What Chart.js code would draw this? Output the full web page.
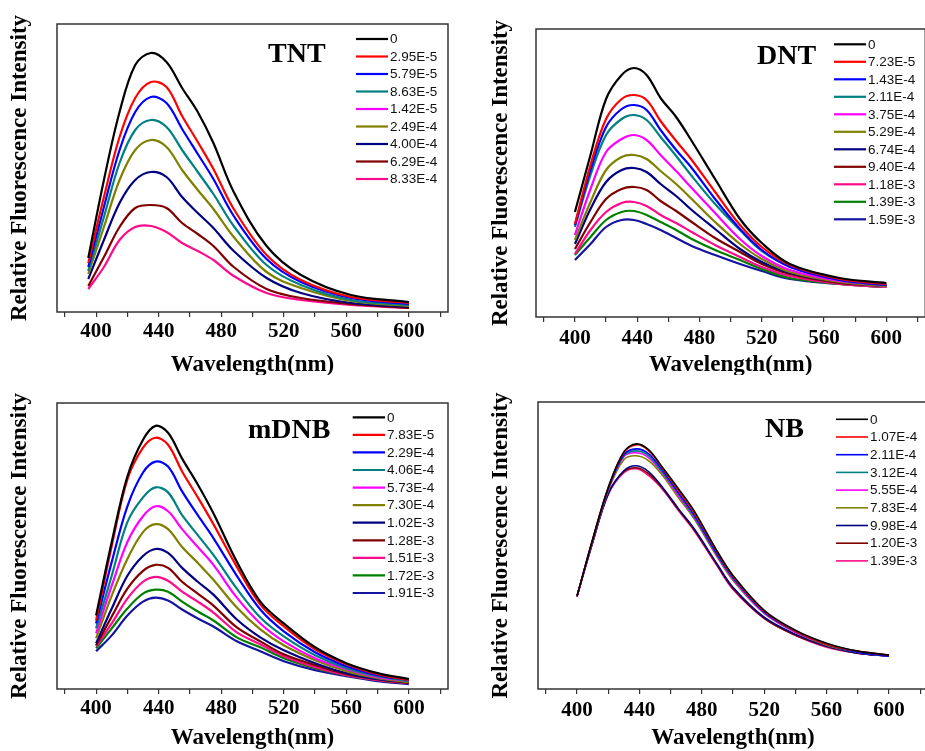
<!DOCTYPE html>
<html><head><meta charset="utf-8">
<script src="https://cdn.jsdelivr.net/npm/chart.js@4.4.0/dist/chart.umd.min.js"></script>
<style>
html,body{margin:0;padding:0;background:#fff;overflow:hidden;width:925px;height:751px;position:relative;}
canvas{position:absolute;}
</style></head><body>
<canvas id="c1" width="462" height="375" style="left:0;top:0"></canvas>
<canvas id="c2" width="466" height="375" style="left:462px;top:0"></canvas>
<canvas id="c3" width="462" height="376" style="left:0;top:375px"></canvas>
<canvas id="c4" width="466" height="376" style="left:462px;top:375px"></canvas>
<script>
// ---------- data ----------
const SERIES_COLORS_A = ['#000000','#FF0000','#0000FF','#008080','#FF00FF','#808000','#000080','#800000','#FF0A8C'];
const SERIES_COLORS_B = ['#000000','#FF0000','#0000FF','#008080','#FF00FF','#808000','#000080','#800000','#FF0A8C','#008000','#1414A0'];
const X_TICKS = [400, 440, 480, 520, 560, 600];

// TNT
const TNT_WAVELENGTH = [395, 405, 415, 425, 435, 445, 455, 465, 475, 488, 509, 531, 563, 600];
const TNT_CONC = ['0','2.95E-5','5.79E-5','8.63E-5','1.42E-5','2.49E-4','4.00E-4','6.29E-4','8.33E-4'];
const TNT_INTENSITY = [
  [54, 132, 200, 247, 259, 250, 224, 200, 169, 120, 66, 37, 17, 10],
  [49, 115, 175, 214, 230, 225, 196, 170, 143, 103, 57, 32, 15, 9],
  [45, 105, 162, 200, 215, 209, 183, 158, 133, 96, 53, 30, 14, 8],
  [41, 95, 149, 182, 192, 185, 162, 140, 118, 86, 47, 27, 12, 7],
  [],
  [38, 85, 132, 162, 172, 165, 142, 122, 103, 75, 40, 24, 11, 6],
  [33, 72, 109, 132, 140, 135, 115, 99, 84, 61, 34, 19, 9, 5],
  [26, 55, 85, 104, 107, 104, 89, 78, 66, 45, 23, 14, 8, 4],
  [23, 45, 72, 85, 86, 80, 69, 61, 52, 36, 19, 12, 7, 4]
];

// DNT
const DNT_WAVELENGTH = [400, 410, 420, 430, 438, 446, 455, 465, 475, 490, 506, 520, 538, 570, 600];
const DNT_CONC = ['0','7.23E-5','1.43E-4','2.11E-4','3.75E-4','5.29E-4','6.74E-4','9.40E-4','1.18E-3','1.39E-3','1.59E-3'];
const DNT_INTENSITY = [
  [105, 162, 218, 242, 249, 242, 219, 200, 176, 138, 98, 74, 53, 39, 34],
  [93, 152, 198, 218, 222, 217, 196, 176, 157, 125, 92, 70, 52, 38, 33],
  [92, 147, 190, 208, 212, 207, 187, 167, 149, 118, 88, 67, 50, 37, 32],
  [90, 142, 182, 198, 202, 197, 180, 161, 141, 113, 87, 66, 51, 37, 32],
  [82, 128, 165, 178, 182, 177, 162, 146, 129, 104, 78, 61, 47, 36, 32],
  [77, 115, 147, 160, 162, 158, 146, 133, 118, 95, 73, 58, 45, 35, 31],
  [73, 108, 135, 147, 149, 145, 133, 121, 107, 88, 68, 55, 44, 35, 31],
  [68, 95, 118, 128, 130, 127, 116, 106, 95, 79, 65, 53, 43, 34, 31],
  [63, 87, 105, 114, 115, 111, 102, 94, 85, 72, 60, 50, 41, 33, 30],
  [62, 80, 97, 105, 106, 102, 95, 87, 78, 67, 57, 48, 39, 33, 30],
  [57, 73, 90, 97, 97, 93, 87, 79, 71, 62, 53, 46, 38, 33, 30]
];

// mDNB
const MDNB_WAVELENGTH = [400, 410, 420, 430, 438, 446, 455, 465, 475, 490, 505, 520, 540, 560, 580, 600];
const MDNB_CONC = ['0','7.83E-5','2.29E-4','4.06E-4','5.73E-4','7.30E-4','1.02E-3','1.28E-3','1.51E-3','1.72E-3','1.91E-3'];
const MDNB_INTENSITY = [
  [74, 148, 214, 251, 265, 258, 232, 206, 177, 128, 88, 66, 42, 26, 16, 10],
  [69, 144, 211, 243, 253, 246, 219, 193, 166, 123, 85, 63, 40, 25, 15, 9],
  [66, 128, 184, 218, 229, 224, 199, 175, 152, 114, 80, 58, 37, 23, 14, 9],
  [61, 114, 168, 193, 203, 198, 175, 155, 135, 101, 72, 53, 34, 21, 13, 8],
  [56, 104, 148, 174, 184, 179, 161, 143, 125, 92, 66, 48, 31, 20, 12, 8],
  [51, 94, 131, 158, 166, 161, 143, 127, 110, 82, 60, 44, 29, 18, 11, 7],
  [46, 81, 114, 134, 141, 137, 122, 108, 95, 70, 52, 39, 26, 16, 10, 7],
  [44, 73, 101, 119, 125, 122, 108, 96, 84, 62, 48, 35, 24, 15, 10, 6],
  [43, 66, 91, 108, 113, 109, 98, 88, 77, 57, 45, 33, 22, 14, 9, 6],
  [41, 61, 81, 96, 100, 98, 88, 78, 69, 52, 42, 31, 21, 14, 9, 6],
  [38, 54, 74, 88, 92, 89, 80, 71, 63, 48, 38, 28, 19, 13, 8, 5]
];

// NB
const NB_WAVELENGTH = [400, 410, 420, 430, 438, 446, 455, 465, 475, 490, 500, 520, 540, 560, 580, 600];
const NB_CONC = ['0','1.07E-4','2.11E-4','3.12E-4','5.55E-4','7.83E-4','9.98E-4','1.20E-3','1.39E-3'];
const NB_INTENSITY = [
  [93, 150, 202, 238, 246, 240, 222, 201, 179, 138, 114, 79, 59, 46, 38, 34],
  [93, 150, 202, 237, 245, 239, 221, 199, 177, 137, 113, 78, 58, 45, 38, 34],
  [93, 149, 201, 235, 241, 236, 219, 197, 175, 135, 112, 77, 58, 45, 37, 33],
  [93, 149, 200, 234, 239, 234, 217, 196, 173, 134, 111, 77, 58, 45, 37, 33],
  [93, 149, 200, 233, 237, 232, 216, 194, 172, 133, 110, 76, 57, 45, 37, 33],
  [93, 148, 199, 230, 234, 229, 214, 192, 171, 132, 109, 76, 57, 44, 37, 33],
  [93, 147, 196, 219, 224, 218, 202, 181, 161, 125, 102, 72, 55, 43, 36, 33],
  [93, 147, 196, 218, 222, 216, 201, 180, 160, 124, 101, 71, 54, 43, 36, 33],
  [93, 147, 195, 217, 221, 214, 200, 179, 159, 123, 100, 71, 54, 42, 36, 33]
];

// ---------- layout / style ----------
const SERIF = '"Liberation Serif", "Times New Roman", serif';
const SANS = '"Liberation Sans", Arial, sans-serif';

const overlayPlugin = {
  id: 'overlay',
  afterDraw(chart, args, o) {
    const ctx = chart.ctx, a = chart.chartArea;
    ctx.save();
    ctx.strokeStyle = '#333';
    ctx.lineWidth = 1.5;
    ctx.strokeRect(a.left, a.top, a.right - a.left, a.bottom - a.top);
    ctx.fillStyle = '#000';
    ctx.font = 'bold 28px ' + SERIF;
    ctx.textAlign = 'left';
    ctx.textBaseline = 'alphabetic';
    ctx.fillText(o.title, o.titleX, o.titleY);
    ctx.font = '13.5px ' + SANS;
    ctx.textBaseline = 'middle';
    chart.data.datasets.forEach((ds, i) => {
      const y = o.legY + i * o.legStep;
      ctx.strokeStyle = ds.borderColor;
      ctx.lineWidth = o.legLW;
      ctx.beginPath();
      ctx.moveTo(o.legX0, y);
      ctx.lineTo(o.legX1, y);
      ctx.stroke();
      ctx.fillStyle = '#111';
      ctx.fillText(ds.label, o.legX1 + 2, y + 0.5);
    });
    ctx.restore();
  }
};

function makePanel(id, wl, conc, intensity, colors, p) {
  const datasets = conc.map((c, i) => ({
    label: c,
    data: intensity[i].map((v, k) => ({x: wl[k], y: v})),
    borderColor: colors[i],
    backgroundColor: colors[i],
    borderWidth: p.lw,
    pointRadius: 0,
    fill: false,
    tension: 0.35
  }));
  new Chart(document.getElementById(id), {
    type: 'line',
    data: { datasets },
    plugins: [overlayPlugin],
    options: {
      responsive: false,
      animation: false,
      layout: { padding: { left: 0, top: p.top, right: p.right, bottom: 0 } },
      plugins: {
        legend: { display: false },
        tooltip: { enabled: false },
        overlay: p.overlay
      },
      scales: {
        x: {
          type: 'linear',
          min: 375, max: 625,
          afterFit: s => { s.height = p.xh; },
          border: { display: false },
          grid: { display: true, drawOnChartArea: false, drawTicks: true, tickLength: 5, color: '#333', lineWidth: 1.2 },
          ticks: {
            stepSize: 20,
            includeBounds: false,
            autoSkip: false,
            maxRotation: 0,
            padding: p.tickPad,
            color: '#000',
            font: { family: SERIF, size: 21, weight: 'bold' },
            callback: v => X_TICKS.includes(v) ? String(v) : ''
          },
          title: {
            display: true,
            text: 'Wavelength(nm)',
            color: '#000',
            font: { family: SERIF, size: 23, weight: 'bold', lineHeight: 1 },
            padding: { top: 0, bottom: p.xTitlePad }
          }
        },
        y: {
          min: 0, max: 288,
          afterFit: s => { s.width = p.left; },
          border: { display: false },
          grid: { display: false },
          ticks: { display: false },
          title: {
            display: true,
            text: 'Relative Fluorescence Intensity',
            color: '#000',
            font: { family: SERIF, size: 23, weight: 'bold', lineHeight: 1 },
            padding: { top: p.yTitlePad, bottom: 0 }
          }
        }
      }
    }
  });
}

makePanel('c1', TNT_WAVELENGTH, TNT_CONC, TNT_INTENSITY, SERIES_COLORS_A, {
  lw: 2.2, top: 24, right: 14, left: 57, xh: 63, tickPad: 2, xTitlePad: -1.5, yTitlePad: 8.5,
  overlay: { title: 'TNT', titleX: 268, titleY: 62, legX0: 356, legX1: 388, legY: 39, legStep: 17.5, legLW: 2.2 }
});
makePanel('c2', DNT_WAVELENGTH, DNT_CONC, DNT_INTENSITY, SERIES_COLORS_B, {
  lw: 2.2, top: 29, right: 2.7, left: 74, xh: 58, tickPad: 3.5, xTitlePad: -1.5, yTitlePad: 27.5,
  overlay: { title: 'DNT', titleX: 295, titleY: 64, legX0: 372, legX1: 404, legY: 44.3, legStep: 17.5, legLW: 2.2 }
});
makePanel('c3', MDNB_WAVELENGTH, MDNB_CONC, MDNB_INTENSITY, SERIES_COLORS_B, {
  lw: 2.2, top: 28, right: 14, left: 57, xh: 62, tickPad: 2, xTitlePad: 1, yTitlePad: 9,
  overlay: { title: 'mDNB', titleX: 248, titleY: 63.3, legX0: 352.7, legX1: 385, legY: 42.3, legStep: 17.57, legLW: 2.2 }
});
makePanel('c4', NB_WAVELENGTH, NB_CONC, NB_INTENSITY, SERIES_COLORS_A, {
  lw: 1.6, top: 27, right: 0, left: 76, xh: 62, tickPad: 3.5, xTitlePad: 1, yTitlePad: 27.5,
  overlay: { title: 'NB', titleX: 303, titleY: 61.7, legX0: 374, legX1: 406, legY: 44.3, legStep: 17.7, legLW: 1.6 }
});
</script>
</body></html>
